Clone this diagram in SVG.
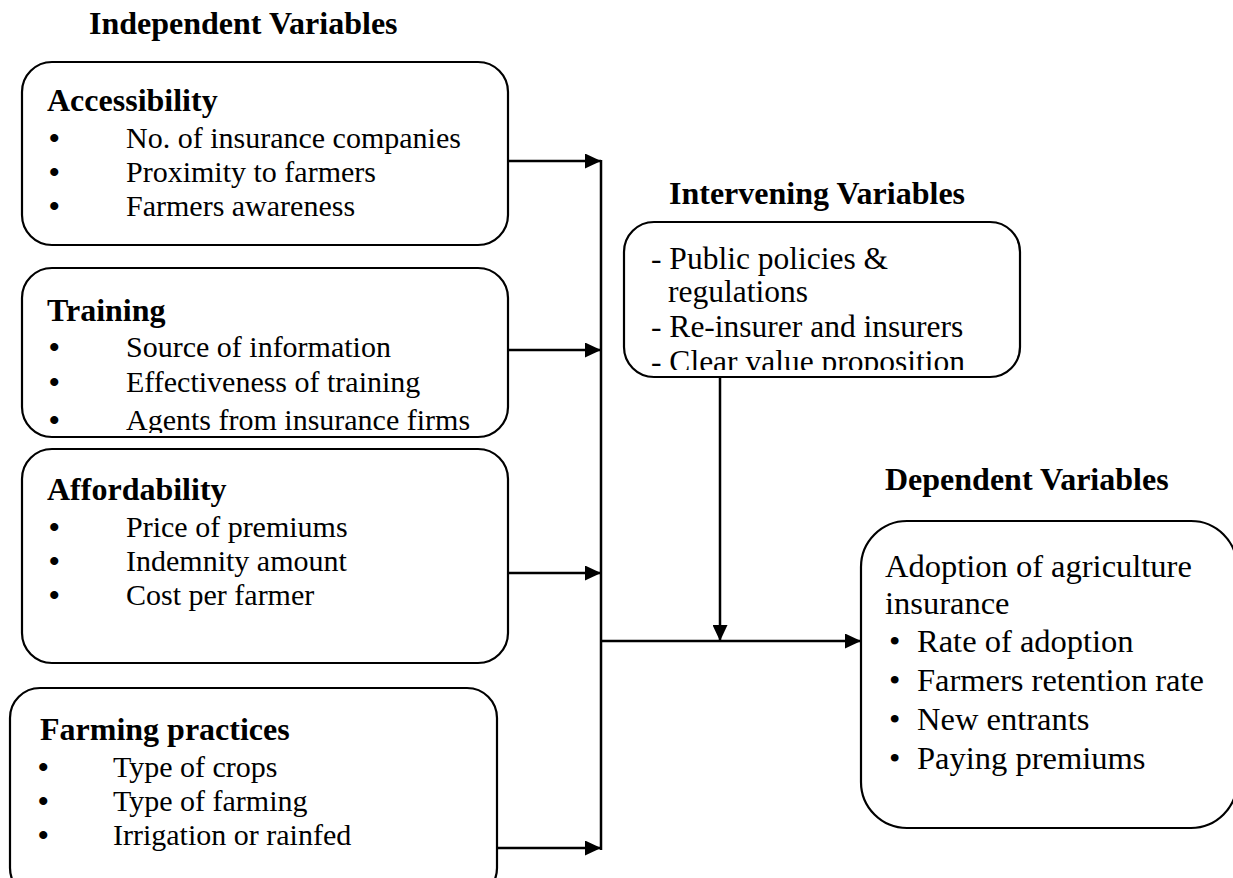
<svg xmlns="http://www.w3.org/2000/svg" width="1233" height="878" viewBox="0 0 1233 878">
<style>
.box{fill:#fff;stroke:#000;stroke-width:2.2}
.h{font-family:"Liberation Serif","Times New Roman",serif;font-weight:bold;font-size:32px;fill:#000}
.t{font-family:"Liberation Serif","Times New Roman",serif;font-size:30px;fill:#000}
.b{font-family:"Liberation Serif","Times New Roman",serif;font-weight:bold;font-size:30px;fill:#000}
.ti{font-family:"Liberation Serif","Times New Roman",serif;font-size:31.5px;fill:#000}
.td{font-family:"Liberation Serif","Times New Roman",serif;font-size:32.5px;fill:#000}
.c{fill:none;stroke:#000;stroke-width:2.5}
</style>
<defs>
<marker id="ah" markerWidth="16" markerHeight="15" refX="16" refY="7.5" orient="auto" markerUnits="userSpaceOnUse">
<path d="M0,0 L16,7.5 L0,15 Z" fill="#000"/>
</marker>
<clipPath id="clipTr"><rect x="20" y="266" width="490" height="167"/></clipPath>
<clipPath id="clipIv"><rect x="622" y="220" width="400" height="150"/></clipPath>
<clipPath id="clipFp"><rect x="8" y="686" width="491" height="200"/></clipPath>
</defs>

<text class="h" x="89" y="34">Independent Variables</text>
<text class="h" x="669" y="204">Intervening Variables</text>
<text class="h" x="885" y="490">Dependent Variables</text>

<g id="accessibility">
<rect class="box" x="22" y="62" width="486" height="183" rx="30"/>
<text class="h" x="47" y="111">Accessibility</text>
<text class="b" x="49" y="148">•</text><text class="t" x="126" y="148">No. of insurance companies</text>
<text class="b" x="49" y="182">•</text><text class="t" x="126" y="182">Proximity to farmers</text>
<text class="b" x="49" y="216">•</text><text class="t" x="126" y="216">Farmers awareness</text>
</g>

<g id="training">
<rect class="box" x="22" y="268" width="486" height="169" rx="30"/>
<g clip-path="url(#clipTr)">
<text class="h" x="47" y="321">Training</text>
<text class="b" x="49" y="357">•</text><text class="t" x="126" y="357">Source of information</text>
<text class="b" x="49" y="392">•</text><text class="t" x="126" y="392">Effectiveness of training</text>
<text class="b" x="49" y="430">•</text><text class="t" x="126" y="430">Agents from insurance firms</text>
</g>
</g>

<g id="affordability">
<rect class="box" x="22" y="449" width="486" height="214" rx="30"/>
<text class="h" x="47" y="500">Affordability</text>
<text class="b" x="49" y="537">•</text><text class="t" x="126" y="537">Price of premiums</text>
<text class="b" x="49" y="571">•</text><text class="t" x="126" y="571">Indemnity amount</text>
<text class="b" x="49" y="605">•</text><text class="t" x="126" y="605">Cost per farmer</text>
</g>

<g id="farming">
<rect class="box" x="10" y="688" width="487" height="210" rx="30"/>
<g clip-path="url(#clipFp)">
<text class="h" x="40" y="740">Farming practices</text>
<text class="b" x="38" y="777">•</text><text class="t" x="113" y="777">Type of crops</text>
<text class="b" x="38" y="811">•</text><text class="t" x="113" y="811">Type of farming</text>
<text class="b" x="38" y="845">•</text><text class="t" x="113" y="845">Irrigation or rainfed</text>
</g>
</g>

<g id="intervening">
<rect class="box" x="624" y="222" width="396" height="155" rx="30"/>
<g clip-path="url(#clipIv)">
<text class="ti" x="651" y="269">- Public policies &amp;</text>
<text class="ti" x="668" y="302">regulations</text>
<text class="ti" x="651" y="337">- Re-insurer and insurers</text>
<text class="ti" x="651" y="372">- Clear value proposition</text>
</g>
</g>

<g id="dependent">
<rect class="box" x="861" y="521" width="376" height="307" rx="46"/>
<text class="td" x="885" y="577">Adoption of agriculture</text>
<text class="td" x="885" y="614">insurance</text>
<text class="td" x="889" y="652">•</text><text class="td" x="917" y="652">Rate of adoption</text>
<text class="td" x="889" y="691">•</text><text class="td" x="917" y="691">Farmers retention rate</text>
<text class="td" x="889" y="730">•</text><text class="td" x="917" y="730">New entrants</text>
<text class="td" x="889" y="769">•</text><text class="td" x="917" y="769">Paying premiums</text>
</g>

<g id="connectors">
<line class="c" x1="601" y1="160" x2="601" y2="850"/>
<line class="c" x1="508" y1="161" x2="601" y2="161" marker-end="url(#ah)"/>
<line class="c" x1="508" y1="350" x2="601" y2="350" marker-end="url(#ah)"/>
<line class="c" x1="508" y1="573" x2="601" y2="573" marker-end="url(#ah)"/>
<line class="c" x1="497" y1="848" x2="601" y2="848" marker-end="url(#ah)"/>
<line class="c" x1="601" y1="641" x2="861" y2="641" marker-end="url(#ah)"/>
<line class="c" x1="720" y1="377" x2="720" y2="641" marker-end="url(#ah)"/>
</g>
</svg>
